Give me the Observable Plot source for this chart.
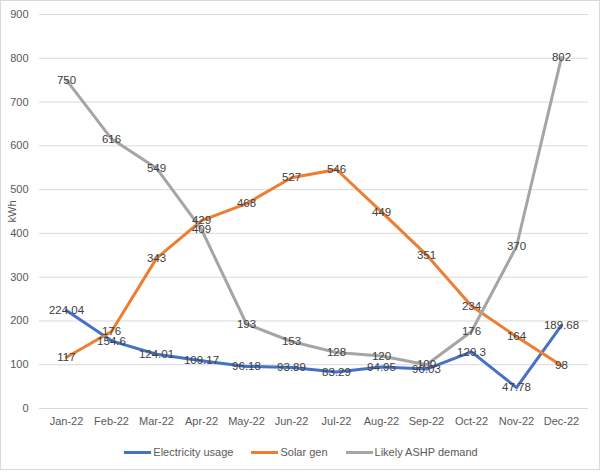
<!DOCTYPE html>
<html>
<head>
<meta charset="utf-8">
<script src="https://cdn.jsdelivr.net/npm/d3@7"></script>
<script src="https://cdn.jsdelivr.net/npm/@observablehq/plot@0.6"></script>
<style>
  body { margin: 0; background: #fff; font-family: "Liberation Sans", Arial, sans-serif; }
  #wrap { position: relative; width: 602px; height: 472px; overflow: hidden; }
  #border { position: absolute; left: 0; top: 0; width: 598px; height: 468px; border: 1px solid #D9D9D9; pointer-events: none; }
  #chart { position: absolute; left: 0; top: 0; }
  #legend { position: absolute; left: 0; top: 442px; width: 602px; height: 20px; display: flex; justify-content: center; align-items: center; gap: 18px; font-size: 11px; color: #595959; }
  .item { display: flex; align-items: center; }
  .sw { width: 27px; height: 3px; margin-right: 2px; }
</style>
</head>
<body>
<div id="wrap">
  <div id="chart"></div>
  <div id="legend"></div>
  <div id="border"></div>
</div>
<script>
const months = ["Jan-22","Feb-22","Mar-22","Apr-22","May-22","Jun-22","Jul-22","Aug-22","Sep-22","Oct-22","Nov-22","Dec-22"];
const seriesNames = ["Electricity usage", "Solar gen", "Likely ASHP demand"];
const electricity = [224.04, 154.6, 124.01, 109.17, 96.18, 93.89, 83.29, 94.95, 90.03, 129.3, 47.78, 189.68];
const solar = [117, 176, 343, 429, 468, 527, 546, 449, 351, 234, 164, 98];
const ashp = [750, 616, 549, 409, 193, 153, 128, 120, 100, 176, 370, 802];
const colors = ["#4472C4", "#ED7D31", "#A5A5A5"];
const yTicks = [0, 100, 200, 300, 400, 500, 600, 700, 800, 900];

const allSeries = [electricity, solar, ashp];
const data = [];
allSeries.forEach((vals, si) => {
  vals.forEach((v, i) => data.push({month: months[i], value: v, series: seriesNames[si]}));
});

const chart = Plot.plot({
  width: 602,
  height: 430,
  marginLeft: 39,
  marginRight: 14,
  marginTop: 14,
  marginBottom: 22,
  style: { fontFamily: "Liberation Sans, Arial, sans-serif", background: "transparent" },
  x: { type: "point", domain: months, padding: 0.5 },
  y: { domain: [0, 900] },
  color: { domain: seriesNames, range: colors },
  marks: [
    Plot.gridY(yTicks, { stroke: "#D9D9D9", strokeOpacity: 1, strokeWidth: 1 }),
    Plot.axisY(yTicks, { tickSize: 0, tickPadding: 11, fontSize: 11, fill: "#595959", label: "kWh", labelAnchor: "center", labelArrow: "none", labelOffset: 31, tickFormat: d => String(d) }),
    Plot.axisX({ tickSize: 0, tickPadding: 9, fontSize: 11, fill: "#595959", label: null }),
    Plot.line(data, { x: "month", y: "value", z: "series", stroke: "series", strokeWidth: 3, strokeLinejoin: "round", strokeLinecap: "round" }),
    Plot.text(data, { x: "month", y: "value", text: d => String(d.value), fill: "#404040", fontSize: 11.5 })
  ]
});
document.getElementById("chart").appendChild(chart);

const legend = document.getElementById("legend");
seriesNames.forEach((name, i) => {
  const item = document.createElement("div");
  item.className = "item";
  const sw = document.createElement("div");
  sw.className = "sw";
  sw.style.background = colors[i];
  const lab = document.createElement("span");
  lab.textContent = name;
  item.appendChild(sw);
  item.appendChild(lab);
  legend.appendChild(item);
});
</script>
</body>
</html>
